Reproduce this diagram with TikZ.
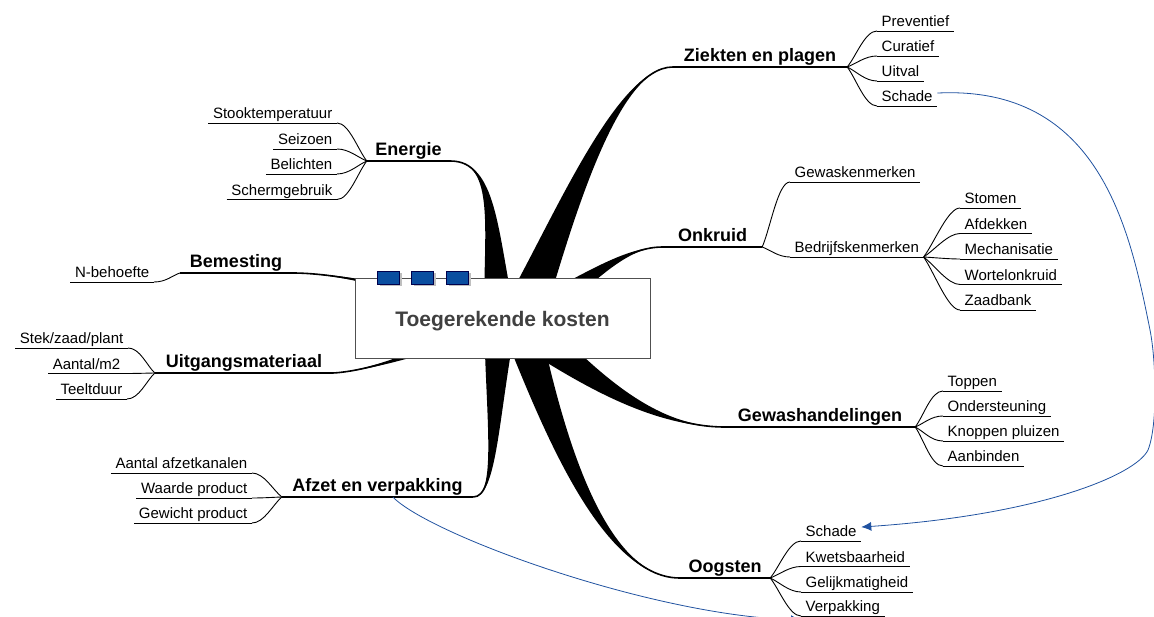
\documentclass[tikz,border=0pt]{standalone}
\usepackage{fontspec}
\setmainfont{Liberation Sans}
\usetikzlibrary{calc,arrows.meta,shadows}
\definecolor{linkblue}{RGB}{32,82,160}
\definecolor{boxblue}{RGB}{10,78,160}
\definecolor{ctext}{RGB}{64,64,64}
\definecolor{boxedge}{RGB}{80,80,80}
\newcommand\mmtaper[6]{%
  \fill ($(#1)!#5!90:(#2)$) .. controls ($(#2)!#6!-90:(#1)$) and (#3) .. (#4)
        .. controls (#3) and ($(#2)!#6!90:(#1)$) .. ($(#1)!#5!-90:(#2)$) -- cycle;
  \draw[line width=1.6pt] (#1) .. controls (#2) and (#3) .. (#4);
}
\begin{document}
\begin{tikzpicture}[x=1pt,y=-1pt,
  sub/.style={font=\fontsize{15}{18}\selectfont, inner xsep=4.5pt, inner ysep=0.5pt, text height=11pt, text depth=3.5pt},
  subR/.style={sub, anchor=south west},
  subL/.style={sub, anchor=south east},
  mainnode/.style={font=\fontsize{18}{21}\selectfont\bfseries, inner xsep=0pt, inner ysep=1pt, text height=13.5pt, text depth=4pt, anchor=south},
  uline/.style={line width=0.9pt},
  mline/.style={line width=1.6pt},
  fanline/.style={line width=0.9pt},
  link/.style={draw=linkblue, line width=0.8pt},
  linktip/.style={-{Latex[length=10pt,width=9pt]}, linkblue},
  brect/.style={draw=black!70!blue, fill=boxblue, minimum width=22pt, minimum height=13pt, inner sep=0pt, line width=0.8pt,
    drop shadow={shadow xshift=2.5pt, shadow yshift=-2.5pt, fill=black!25, opacity=1}},
  centerbox/.style={draw=boxedge, fill=white, line width=0.8pt, minimum width=295pt, minimum height=80pt, inner sep=0pt,
    font=\fontsize{21}{24}\selectfont\bfseries, text=ctext, text height=18pt, text depth=0pt}
]
\useasboundingbox (0,0) rectangle (1154,617);
\clip (0,0) rectangle (1154,617);

% main nodes
\node[mainnode, minimum width=174pt] (zp) at (760,67) {Ziekten en plagen};
\node[mainnode, minimum width=83pt] (en) at (408.5,161) {Energie};
\node[mainnode, minimum width=99pt] (ok) at (712.5,247) {Onkruid};
\node[mainnode, minimum width=190pt] (gw) at (820,427) {Gewashandelingen};
\node[mainnode, minimum width=90pt] (oo) at (725,578) {Oogsten};
\node[mainnode, minimum width=191pt] (af) at (377.5,497) {Afzet en verpakking};
\node[mainnode, minimum width=112pt] (bm) at (236,273) {Bemesting};
\node[mainnode, minimum width=178pt] (ui) at (244,373) {Uitgangsmateriaal};

% right-side sub nodes
\node[subR] (prev) at (877,31) {Preventief};
\node[subR] (cura) at (877,56) {Curatief};
\node[subR] (uitv) at (877,81) {Uitval};
\node[subR] (zsch) at (877,106) {Schade};
\node[subR] (gwk) at (790,182) {Gewaskenmerken};
\node[subR] (bdk) at (790,257) {Bedrijfskenmerken};
\node[subR] (stom) at (960,208) {Stomen};
\node[subR] (afdk) at (960,233.5) {Afdekken};
\node[subR] (mech) at (960,259) {Mechanisatie};
\node[subR] (wort) at (960,284.5) {Wortelonkruid};
\node[subR] (zaad) at (960,310) {Zaadbank};
\node[subR] (topp) at (943,391) {Toppen};
\node[subR] (onds) at (943,416) {Ondersteuning};
\node[subR] (knop) at (943,441) {Knoppen pluizen};
\node[subR] (aanb) at (943,466) {Aanbinden};
\node[subR] (osch) at (801,541) {Schade};
\node[subR] (kwet) at (801,566.5) {Kwetsbaarheid};
\node[subR] (gelk) at (801,592) {Gelijkmatigheid};
\node[subR] (verp) at (801,616) {Verpakking};

% left-side sub nodes
\node[subL] (stook) at (337,123) {Stooktemperatuur};
\node[subL] (seiz) at (337,149) {Seizoen};
\node[subL] (beli) at (337,174) {Belichten};
\node[subL] (scherm) at (337,199.5) {Schermgebruik};
\node[subL] (nbeh) at (154,282) {N-behoefte};
\node[subL] (stek) at (128,348) {Stek/zaad/plant};
\node[subL] (aant) at (125,373.5) {Aantal/m2};
\node[subL] (teel) at (127,399) {Teeltduur};
\node[subL] (afzk) at (252,473) {Aantal afzetkanalen};
\node[subL] (waar) at (252,498) {Waarde product};
\node[subL] (gewi) at (252,523) {Gewicht product};

% underlines
\foreach \n in {prev,cura,uitv,zsch,gwk,bdk,stom,afdk,mech,wort,zaad,topp,onds,knop,aanb,osch,kwet,gelk,verp,
                stook,seiz,beli,scherm,nbeh,stek,aant,teel,afzk,waar,gewi}
  \draw[uline] (\n.south west) -- (\n.south east);
\foreach \n in {zp,en,ok,gw,oo,af,bm,ui}
  \draw[mline] (\n.south west) -- (\n.south east);

% fans to the right
\foreach \p/\c in {zp/prev,zp/cura,zp/uitv,zp/zsch,ok/gwk,ok/bdk,bdk/stom,bdk/afdk,bdk/mech,bdk/wort,bdk/zaad,
                   gw/topp,gw/onds,gw/knop,gw/aanb,oo/osch,oo/kwet,oo/gelk,oo/verp}
  \draw[fanline] (\p.south east) .. controls ($(\p.south east)!0.3!(\c.south west)$) and ($(\c.south west)+(-12,0)$) .. (\c.south west);
% fans to the left
\foreach \p/\c in {en/stook,en/seiz,en/beli,en/scherm,bm/nbeh,ui/stek,ui/aant,ui/teel,af/afzk,af/waar,af/gewi}
  \draw[fanline] (\p.south west) .. controls ($(\p.south west)!0.3!(\c.south east)$) and ($(\c.south east)+(12,0)$) .. (\c.south east);

% tapered main branches
\coordinate (hubL) at (500,322);
\coordinate (hubR) at (520,322);
\mmtaper{hubR}{560,230}{615,67}{zp.south west}{22pt}{10pt}
\mmtaper{hubL}{490,230}{497,161}{en.south east}{16pt}{7pt}
\mmtaper{hubR}{585,285}{620,247}{ok.south west}{15pt}{8pt}
\mmtaper{hubR}{585,375}{650,427}{gw.south west}{20pt}{11pt}
\mmtaper{hubR}{550,420}{600,578}{oo.south west}{19pt}{10pt}
\mmtaper{hubL}{492,420}{497,497}{af.south east}{16pt}{6pt}
\mmtaper{hubL}{420,290}{340,273}{bm.south east}{8pt}{3pt}
\mmtaper{hubL}{430,350}{370,371}{ui.south east}{8pt}{3pt}

% central box
\node[centerbox] (tk) at (502.5,318) {Toegerekende kosten};
\node[brect] (b1) at (388,277.5) {};
\node[brect] (b2) at (422,277.5) {};
\node[brect] (b3) at (457,277.5) {};

% blue links
\coordinate (lk1) at (1150,330);
\coordinate (lk2) at (1148,450);
\draw[link, linktip] ([yshift=5pt]zsch.east) .. controls (1100,85) and (1130,230) .. (lk1)
   .. controls (1156,360) and (1158,425) .. (lk2)
   .. controls (1136,475) and (1040,515) .. ([yshift=6pt]osch.east);
\coordinate (lk0) at ($(af.south west)!0.58!(af.south east)$);
\draw[link, linktip] (lk0) .. controls (430,535) and (650,615) .. ([yshift=-4pt]verp.south west);
\end{tikzpicture}
\end{document}
